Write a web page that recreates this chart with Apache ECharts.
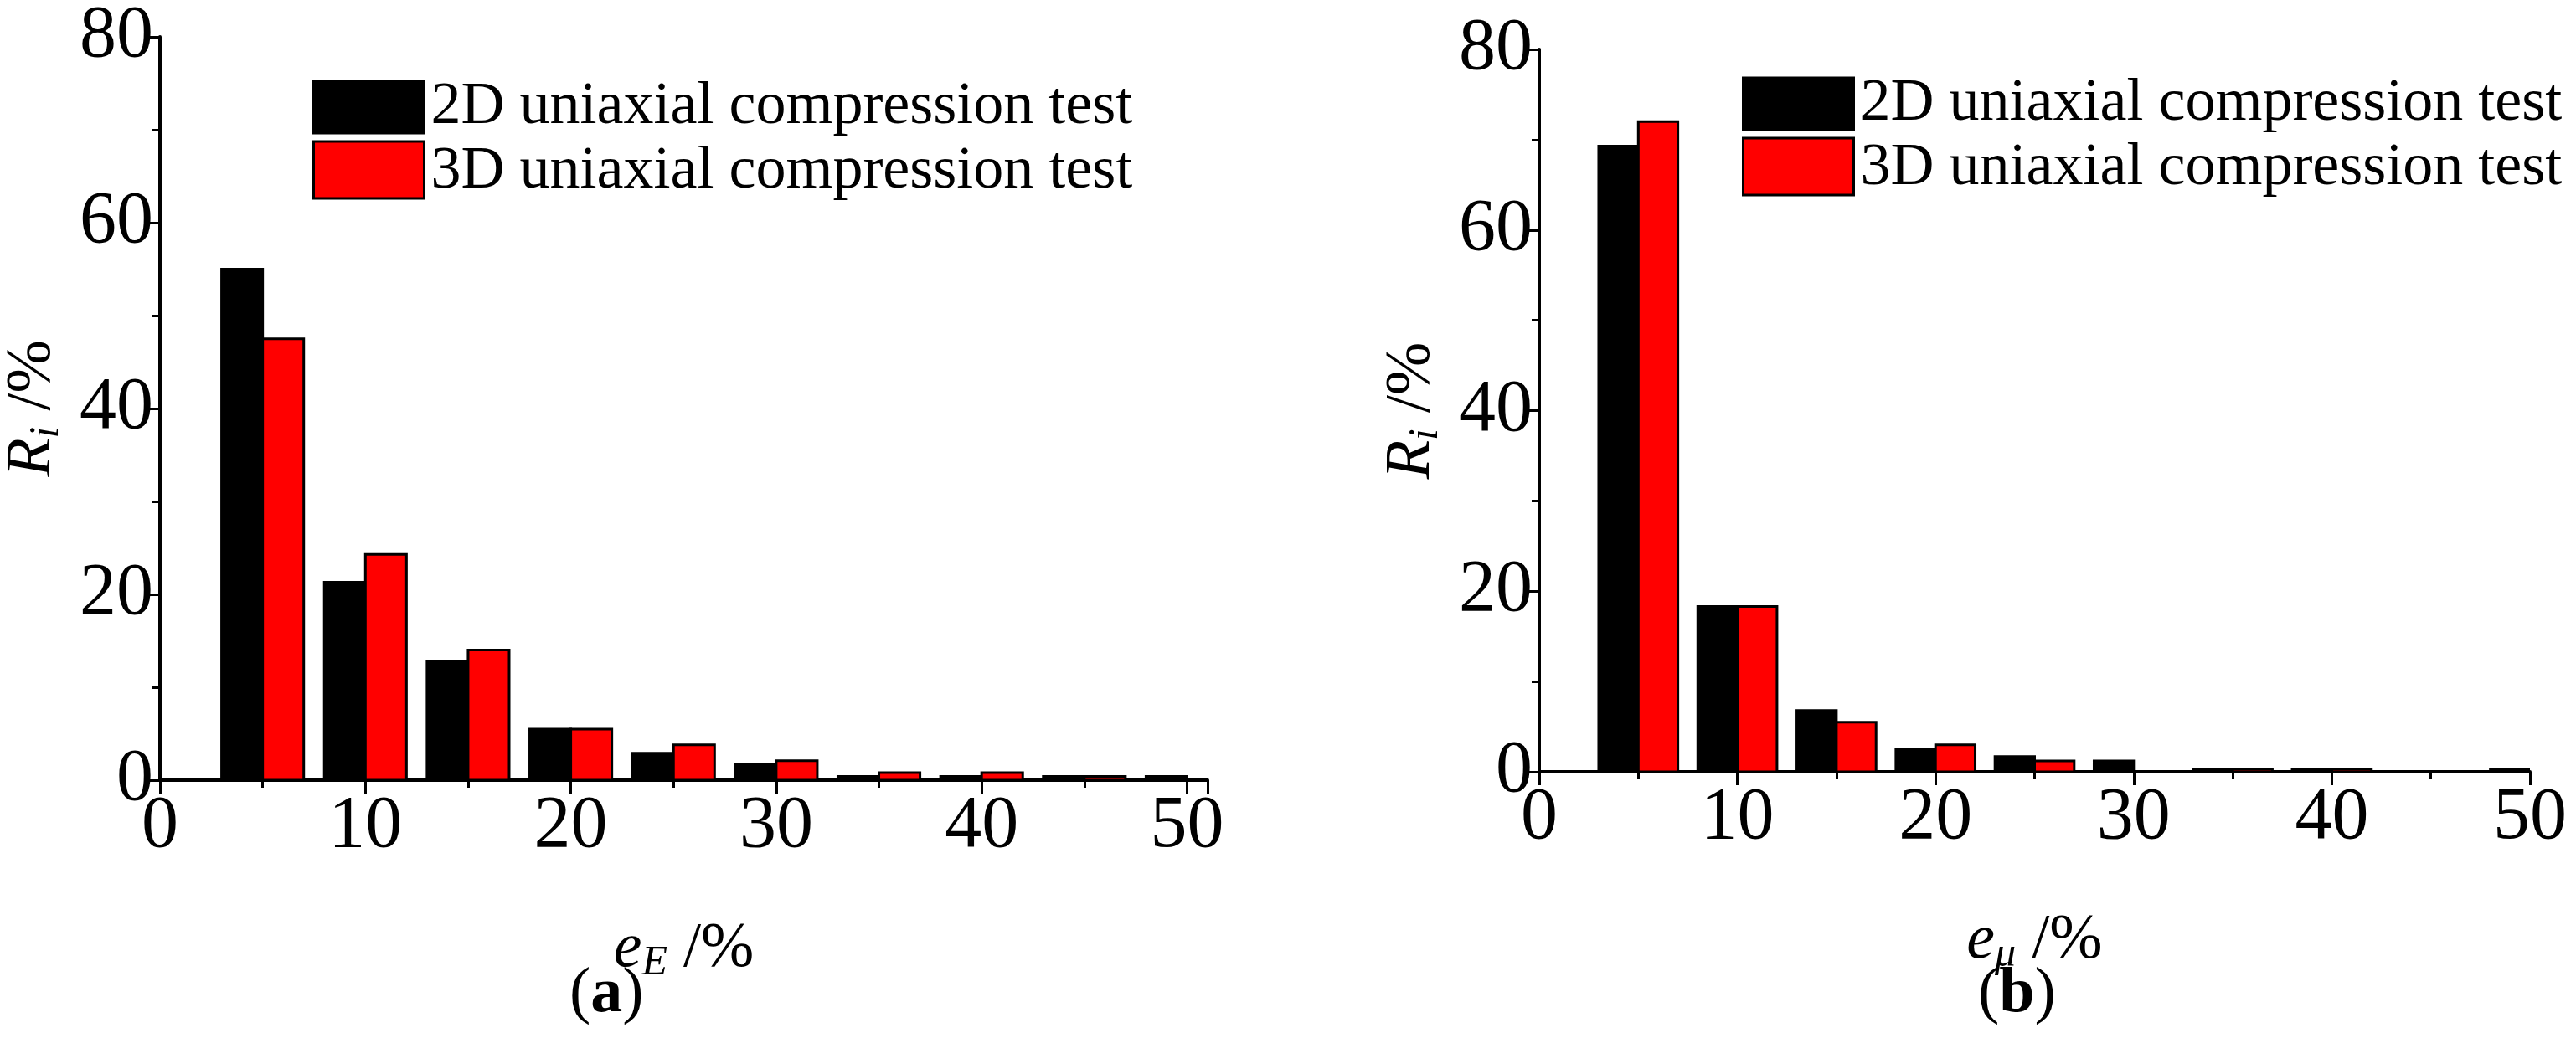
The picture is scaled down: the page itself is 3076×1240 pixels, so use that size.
<!DOCTYPE html>
<html>
<head>
<meta charset="utf-8">
<script src="https://cdn.jsdelivr.net/npm/echarts@6/dist/echarts.min.js"></script>
<style>
  html, body { margin: 0; padding: 0; background: #fff; }
  #chart { width: 3076px; height: 1240px; }
</style>
</head>
<body>
<div id="chart"></div>
<script>
// bin centres (%); black bar sits left of the centre, red bar right of it
const binCentersA = [5, 10, 15, 20, 25, 30, 35, 40, 45, 50]
const a2D = [55, 21.3, 12.8, 5.5, 2.9, 1.7, 0.4, 0.4, 0.4, 0.4]
const a3D = [47.5, 24.3, 14, 5.5, 3.8, 2.1, 0.8, 0.8, 0.4, 0]
const binCentersB = [5, 10, 15, 20, 25, 30, 35, 40, 45, 50]
const b2D = [69.3, 18.3, 6.8, 2.5, 1.7, 1.2, 0.3, 0.3, 0, 0.3]
const b3D = [72, 18.3, 5.5, 3, 1.2, 0, 0.3, 0.3, 0, 0]
const halfBin = 2

const FONT = '"Liberation Serif", "DejaVu Serif", serif'

function barSeries(name, color, centers, values, side, idx) {
  return {
    name: name,
    type: 'custom',
    xAxisIndex: idx,
    yAxisIndex: idx,
    itemStyle: { color: color, borderColor: '#000', borderWidth: 3 },
    data: centers.map((c, i) => [c, values[i]]),
    renderItem: (params, api) => {
      const c = api.value(0)
      const v = api.value(1)
      if (!v) return null
      const x0 = side < 0 ? c - halfBin : c
      const x1 = side < 0 ? c : c + halfBin
      const p0 = api.coord([x0, v])
      const p1 = api.coord([x1, 0])
      return {
        type: 'rect',
        shape: { x: p0[0], y: p0[1], width: p1[0] - p0[0], height: p1[1] - p0[1] },
        style: { fill: color, stroke: '#000', lineWidth: 3 }
      }
    },
    clip: true
  }
}

const nameRich = {
  it: { fontFamily: FONT, fontStyle: 'italic', fontSize: 76, color: '#000' },
  sub: { fontFamily: FONT, fontStyle: 'italic', fontSize: 50, color: '#000', padding: [34, 0, 0, 0] },
  n: { fontFamily: FONT, fontSize: 76, color: '#000' }
}

function xAxis(idx, max, sym) {
  return {
    type: 'value', gridIndex: idx, min: 0, max: max, interval: 10,
    axisLine: { onZero: false, lineStyle: { color: '#000', width: 4 } },
    axisTick: { inside: false, length: 16, lineStyle: { width: 3 } },
    minorTick: { show: true, splitNumber: 2, length: 9, lineStyle: { color: '#000', width: 3 } },
    splitLine: { show: false },
    axisLabel: { color: '#000', fontFamily: FONT, fontSize: 88, margin: 12, showMaxLabel: max === 50 },
    name: '{it|e}{sub|' + sym + '}{n| /%}',
    nameLocation: 'middle', nameGap: 160,
    nameTextStyle: { rich: nameRich }
  }
}

function yAxis(idx) {
  return {
    type: 'value', gridIndex: idx, min: 0, max: 80, interval: 20,
    axisLine: { show: true, lineStyle: { color: '#000', width: 4 } },
    axisTick: { show: true, inside: false, length: 16, lineStyle: { width: 3 } },
    minorTick: { show: true, splitNumber: 2, length: 9, lineStyle: { color: '#000', width: 3 } },
    splitLine: { show: false },
    axisLabel: { color: '#000', fontFamily: FONT, fontSize: 88, margin: 8 },
    name: '{it|R}{sub|i}{n| /%}',
    nameLocation: 'middle', nameGap: 110, nameRotate: 90,
    nameTextStyle: { rich: nameRich }
  }
}

function legendBlock(left, top) {
  return { type: 'group', left: left, top: top, children: [
    { type: 'rect', shape: { x: 0, y: 0, width: 132, height: 62 }, style: { fill: '#000', stroke: '#000', lineWidth: 3 } },
    { type: 'text', x: 140, y: 31, style: { text: '2D uniaxial compression test', fontFamily: FONT, fontSize: 72, fill: '#000', verticalAlign: 'middle' } },
    { type: 'rect', shape: { x: 0, y: 72, width: 132, height: 68 }, style: { fill: '#f00', stroke: '#000', lineWidth: 3 } },
    { type: 'text', x: 140, y: 108, style: { text: '3D uniaxial compression test', fontFamily: FONT, fontSize: 72, fill: '#000', verticalAlign: 'middle' } }
  ] }
}

function caption(left, ch) {
  return { type: 'text', left: left, top: 1150, style: {
    rich: { p: { fontFamily: FONT, fontSize: 76 }, b: { fontFamily: FONT, fontSize: 76, fontWeight: 'bold' } },
    text: '{p|(}{b|' + ch + '}{p|)}' } }
}

const myChart = echarts.init(document.getElementById('chart'))
myChart.setOption({
  animation: false,
  backgroundColor: '#fff',
  grid: [
    { left: 190, top: 43, width: 1252, height: 889 },
    { left: 1838, top: 59, width: 1183, height: 863 }
  ],
  xAxis: [xAxis(0, 51, 'E'), xAxis(1, 50, 'μ')],
  yAxis: [yAxis(0), yAxis(1)],
  graphic: [
    legendBlock(373, 92),
    legendBlock(2080, 88),
    caption(680, 'a'),
    caption(2362, 'b')
  ],
  series: [
    barSeries('2D a', '#000', binCentersA, a2D, -1, 0),
    barSeries('3D a', '#f00', binCentersA, a3D, 1, 0),
    barSeries('2D b', '#000', binCentersB, b2D, -1, 1),
    barSeries('3D b', '#f00', binCentersB, b3D, 1, 1)
  ]
})
</script>
</body>
</html>
